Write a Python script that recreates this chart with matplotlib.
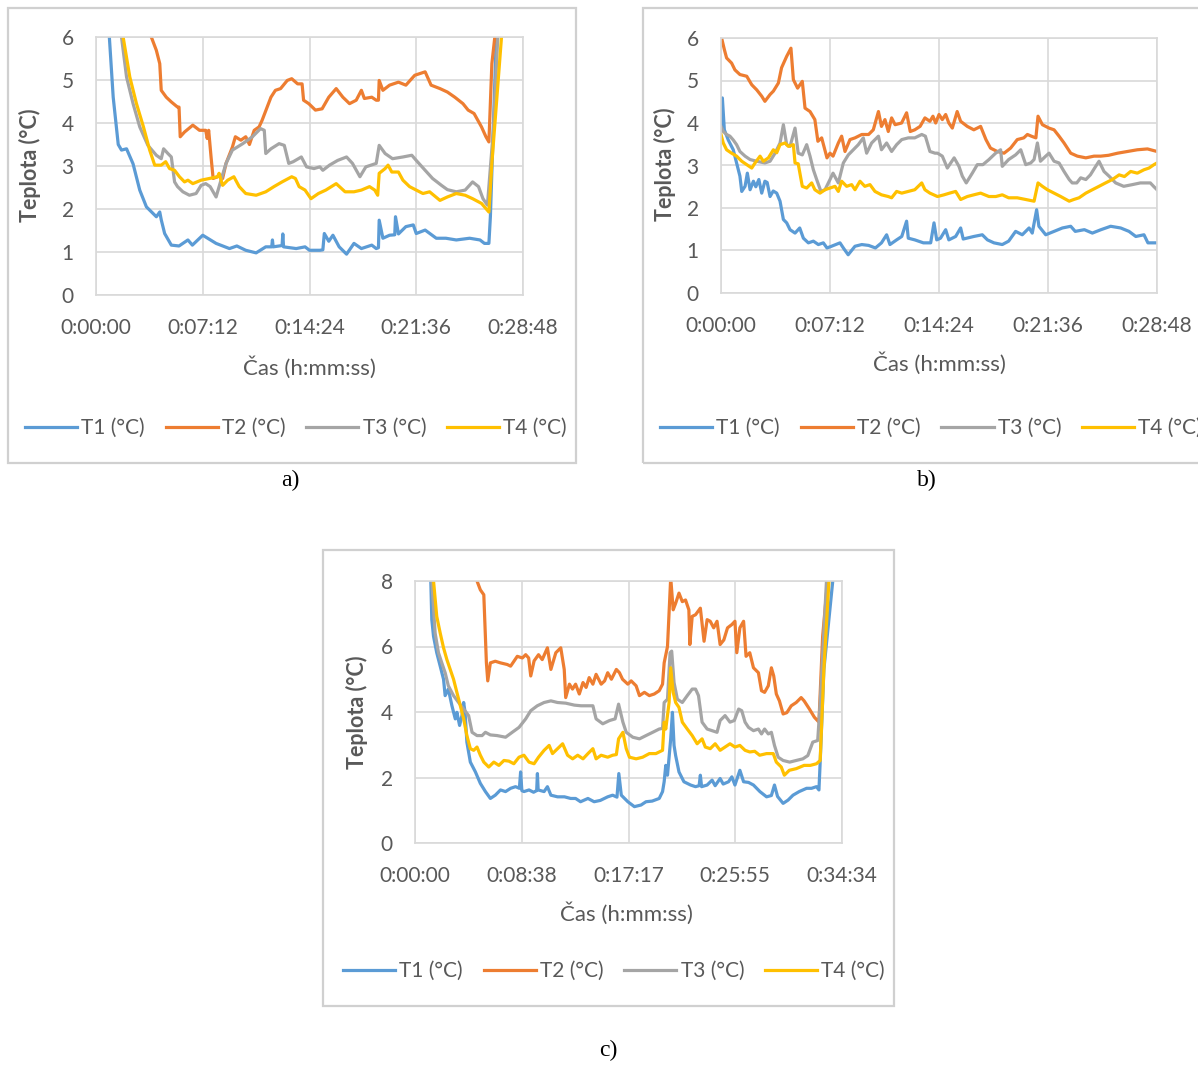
import matplotlib
matplotlib.use("Agg")
import matplotlib.pyplot as plt
from matplotlib.patches import Rectangle
from matplotlib.ticker import FuncFormatter

# cas v minutach, teplota v °C
A_T1_t = [0.8, 0.9, 1.16, 1.5, 1.72, 2.06, 2.5, 2.95, 3.4, 4.07, 4.3, 4.4, 4.63, 5.08, 5.6, 6.2, 6.5, 7.2, 8.1, 9.0,
          9.5, 10.1, 10.8, 11.45, 11.85, 11.9, 11.95, 12.55, 12.6, 12.65, 13.5, 14.1, 14.4, 15.1, 15.3, 15.4, 15.7, 15.98, 16.4, 16.9,
          17.4, 17.9, 18.6, 18.9, 19.05, 19.1, 19.35, 19.8, 20.15, 20.2, 20.4, 20.9, 21.4, 21.6, 22.2, 22.95, 23.6, 24.3, 25.2, 25.9,
          26.2, 26.5, 26.6, 27.0, 27.2]
A_T1_v = [6.6, 6.0, 4.6, 3.5, 3.37, 3.4, 3.05, 2.44, 2.05, 1.82, 1.93, 1.75, 1.43, 1.16, 1.14, 1.28, 1.16, 1.39, 1.2, 1.08,
          1.14, 1.04, 0.98, 1.12, 1.12, 1.28, 1.12, 1.15, 1.42, 1.12, 1.08, 1.12, 1.04, 1.04, 1.05, 1.43, 1.25, 1.39, 1.12, 0.95,
          1.2, 1.08, 1.16, 1.08, 1.1, 1.74, 1.32, 1.39, 1.4, 1.82, 1.42, 1.59, 1.63, 1.43, 1.51, 1.32, 1.32, 1.28, 1.32, 1.28,
          1.2, 1.2, 1.82, 6.0, 6.6]
A_T2_t = [3.6, 3.73, 4.07, 4.3, 4.4, 4.74, 5.08, 5.5, 5.6, 5.68, 5.97, 6.53, 6.98, 7.4, 7.5, 7.6, 7.76, 7.9, 8.2, 8.4,
          8.54, 8.77, 9.2, 9.4, 9.77, 10.1, 10.35, 10.67, 11.0, 11.2, 11.8, 12.1, 12.45, 12.9, 13.2, 13.6, 13.9, 14.0, 14.35, 14.8,
          15.25, 15.7, 16.2, 16.65, 17.1, 17.55, 17.9, 18.1, 18.6, 18.9, 19.05, 19.1, 19.35, 19.8, 20.4, 20.9, 21.5, 22.2, 22.6, 23.2,
          23.7, 24.2, 24.75, 25.1, 25.5, 26.0, 26.3, 26.5, 26.7, 26.9, 27.0]
A_T2_v = [6.5, 6.0, 5.69, 5.38, 4.76, 4.6, 4.49, 4.37, 4.37, 3.68, 3.79, 3.95, 3.83, 3.83, 3.64, 3.83, 3.21, 2.71, 2.75, 2.79,
          2.71, 3.06, 3.44, 3.68, 3.6, 3.68, 3.5, 3.83, 3.91, 4.06, 4.6, 4.76, 4.8, 4.99, 5.03, 4.91, 4.91, 4.53, 4.45, 4.3,
          4.33, 4.6, 4.8, 4.6, 4.45, 4.53, 4.76, 4.57, 4.6, 4.53, 4.53, 4.99, 4.76, 4.88, 4.95, 4.88, 5.11, 5.19, 4.88, 4.8,
          4.72, 4.6, 4.45, 4.3, 4.22, 3.91, 3.68, 3.56, 5.38, 6.0, 6.5]
A_T3_t = [1.6, 1.72, 2.06, 2.5, 2.95, 3.5, 4.07, 4.4, 4.56, 4.85, 5.08, 5.3, 5.5, 5.86, 6.3, 6.75, 7.09, 7.4, 7.7, 8.1,
          8.43, 8.77, 9.2, 9.9, 10.55, 11.1, 11.35, 11.45, 11.8, 12.35, 12.7, 13.0, 13.3, 13.85, 14.2, 14.7, 15.1, 15.3, 15.75, 16.3,
          16.9, 17.3, 17.8, 18.2, 18.9, 19.1, 19.5, 20.0, 20.7, 21.3, 21.6, 22.2, 22.7, 23.3, 23.7, 24.3, 24.9, 25.4, 25.8, 26.1,
          26.4, 26.8, 27.1, 27.2]
A_T3_v = [6.5, 6.0, 5.07, 4.45, 3.91, 3.48, 3.25, 3.17, 3.4, 3.29, 3.21, 2.63, 2.52, 2.4, 2.32, 2.36, 2.55, 2.59, 2.52, 2.28,
          2.67, 3.06, 3.37, 3.52, 3.68, 3.87, 3.83, 3.29, 3.4, 3.52, 3.48, 3.06, 3.1, 3.21, 2.98, 2.94, 2.98, 2.9, 3.02, 3.13,
          3.21, 3.06, 2.75, 2.98, 3.06, 3.48, 3.29, 3.17, 3.21, 3.25, 3.13, 2.9, 2.71, 2.55, 2.45, 2.4, 2.44, 2.63, 2.52, 2.24,
          2.09, 3.83, 6.0, 6.5]
A_T4_t = [1.7, 1.83, 2.28, 2.73, 3.2, 3.62, 3.96, 4.4, 4.7, 4.96, 5.3, 5.63, 5.97, 6.2, 6.53, 7.09, 7.65, 8.2, 8.3, 8.54,
          8.88, 9.3, 9.66, 10.1, 10.8, 11.45, 12.0, 12.55, 13.2, 13.45, 13.7, 14.1, 14.5, 15.0, 15.5, 16.2, 16.8, 17.4, 17.9, 18.45,
          18.8, 19.0, 19.1, 19.5, 19.7, 19.95, 20.4, 20.7, 21.15, 21.6, 22.05, 22.5, 23.2, 23.7, 24.3, 24.9, 25.4, 26.0, 26.5, 26.7,
          27.35, 27.5]
A_T4_v = [6.5, 6.0, 5.07, 4.45, 3.91, 3.37, 3.02, 3.02, 3.1, 2.94, 2.9, 2.75, 2.63, 2.67, 2.59, 2.67, 2.71, 2.75, 2.83, 2.55,
          2.67, 2.75, 2.52, 2.36, 2.32, 2.4, 2.52, 2.63, 2.75, 2.71, 2.52, 2.44, 2.24, 2.36, 2.44, 2.59, 2.4, 2.4, 2.44, 2.52,
          2.44, 2.32, 2.83, 2.94, 3.02, 2.86, 2.86, 2.67, 2.52, 2.44, 2.36, 2.4, 2.2, 2.28, 2.36, 2.32, 2.24, 2.13, 1.93, 3.06,
          6.0, 6.5]

B_T1_t = [0, 0.09, 0.22, 0.48, 0.81, 1.03, 1.25, 1.37, 1.59, 1.74, 1.92, 2.14, 2.3, 2.5, 2.69, 2.9, 3.05, 3.24, 3.45, 3.68,
          3.9, 4.12, 4.34, 4.56, 4.89, 5.2, 5.44, 5.77, 6.1, 6.43, 6.76, 7.0, 7.3, 7.86, 8.1, 8.4, 8.85, 9.3, 9.75, 10.2,
          10.6, 10.94, 11.16, 11.6, 11.94, 12.26, 12.37, 12.8, 13.37, 13.85, 14.07, 14.25, 14.5, 14.84, 15.05, 15.5, 15.83, 16.0, 16.7, 17.26,
          17.6, 18.03, 18.58, 19.0, 19.46, 19.9, 20.35, 20.56, 20.85, 21.0, 21.45, 22.0, 22.55, 23.1, 23.4, 24.0, 24.53, 25.1, 25.74, 26.4,
          26.95, 27.4, 27.94, 28.2, 28.8]
B_T1_v = [3.84, 4.59, 3.84, 3.6, 3.37, 3.06, 2.75, 2.39, 2.51, 2.82, 2.43, 2.63, 2.5, 2.67, 2.35, 2.63, 2.6, 2.27, 2.4, 2.35,
          2.16, 1.73, 1.65, 1.49, 1.41, 1.53, 1.29, 1.18, 1.22, 1.14, 1.18, 1.06, 1.1, 1.18, 1.05, 0.9, 1.1, 1.14, 1.12, 1.06,
          1.18, 1.37, 1.14, 1.25, 1.33, 1.69, 1.29, 1.25, 1.18, 1.18, 1.65, 1.25, 1.29, 1.49, 1.25, 1.33, 1.53, 1.27, 1.33, 1.37,
          1.25, 1.18, 1.14, 1.22, 1.45, 1.37, 1.53, 1.41, 1.96, 1.57, 1.37, 1.45, 1.53, 1.57, 1.45, 1.49, 1.41, 1.49, 1.57, 1.53,
          1.45, 1.33, 1.37, 1.18, 1.18]
B_T2_t = [0.04, 0.22, 0.37, 0.7, 0.92, 1.25, 1.7, 2.03, 2.36, 2.69, 2.9, 3.24, 3.46, 3.79, 4.0, 4.34, 4.62, 4.78, 5.06, 5.37,
          5.55, 5.88, 6.2, 6.4, 6.65, 7.0, 7.2, 7.4, 7.75, 7.97, 8.19, 8.52, 8.85, 9.3, 9.75, 10.06, 10.4, 10.6, 10.83, 11.05,
          11.27, 11.5, 11.93, 12.26, 12.5, 12.8, 13.15, 13.47, 13.8, 14.0, 14.18, 14.4, 14.62, 14.84, 15.05, 15.28, 15.6, 15.83, 16.27, 16.7,
          17.15, 17.5, 17.8, 18.25, 18.7, 19.13, 19.57, 20.0, 20.24, 20.5, 20.8, 20.94, 21.23, 21.67, 22.0, 22.33, 22.66, 23.1, 23.54, 24.1,
          24.64, 25.08, 25.6, 26.2, 26.85, 27.5, 28.17, 28.8]
B_T2_v = [6.0, 5.73, 5.53, 5.41, 5.25, 5.14, 5.1, 4.9, 4.78, 4.63, 4.51, 4.67, 4.75, 4.94, 5.3, 5.57, 5.76, 5.02, 4.82, 4.98,
          4.35, 4.27, 4.08, 3.57, 3.65, 3.18, 3.29, 3.22, 3.53, 3.69, 3.33, 3.61, 3.65, 3.73, 3.73, 3.84, 4.27, 3.92, 4.08, 3.8,
          4.12, 3.96, 4.0, 4.24, 3.8, 3.84, 3.92, 4.12, 4.04, 4.16, 4.0, 4.2, 4.08, 4.2, 4.0, 3.88, 4.27, 4.04, 3.92, 3.84,
          3.92, 3.61, 3.41, 3.33, 3.29, 3.41, 3.61, 3.65, 3.73, 3.69, 3.65, 4.16, 3.96, 3.88, 3.84, 3.69, 3.53, 3.29, 3.22, 3.18,
          3.22, 3.22, 3.24, 3.29, 3.33, 3.37, 3.39, 3.33]
B_T3_t = [0, 0.15, 0.37, 0.59, 0.81, 1.03, 1.25, 1.59, 1.92, 2.36, 2.9, 3.24, 3.57, 3.9, 4.12, 4.34, 4.56, 4.89, 5.1, 5.37,
          5.66, 5.88, 6.1, 6.32, 6.6, 6.87, 7.2, 7.4, 7.75, 8.08, 8.41, 8.74, 9.07, 9.4, 9.62, 9.95, 10.4, 10.6, 10.94, 11.27,
          11.6, 11.94, 12.37, 12.8, 13.26, 13.5, 13.8, 14.14, 14.3, 14.62, 14.95, 15.4, 15.72, 15.94, 16.2, 16.6, 16.93, 17.3, 17.7, 18.14,
          18.47, 18.58, 19.0, 19.46, 19.8, 20.13, 20.46, 20.68, 20.9, 21.1, 21.45, 21.67, 22.0, 22.33, 22.66, 23.0, 23.2, 23.5, 23.76, 24.1,
          24.4, 24.75, 24.97, 25.3, 25.63, 26.07, 26.6, 27.17, 27.7, 28.36, 28.6, 28.8]
B_T3_v = [3.92, 3.8, 3.73, 3.69, 3.6, 3.49, 3.33, 3.22, 3.14, 3.1, 3.06, 3.1, 3.29, 3.53, 3.96, 3.49, 3.45, 3.88, 3.29, 3.25,
          3.49, 3.22, 2.9, 2.67, 2.39, 2.43, 2.67, 2.82, 2.59, 3.06, 3.25, 3.37, 3.49, 3.65, 3.29, 3.53, 3.69, 3.37, 3.53, 3.33,
          3.49, 3.61, 3.65, 3.65, 3.73, 3.69, 3.33, 3.29, 3.29, 3.22, 2.94, 3.18, 2.98, 2.75, 2.59, 2.82, 3.02, 3.02, 3.14, 3.29,
          3.37, 2.98, 3.14, 3.25, 3.37, 3.02, 3.06, 3.14, 3.53, 3.1, 3.22, 3.29, 3.1, 3.06, 2.86, 2.67, 2.59, 2.59, 2.71, 2.67,
          2.78, 2.98, 3.1, 2.86, 2.75, 2.59, 2.51, 2.55, 2.59, 2.59, 2.5, 2.43]
B_T4_t = [0, 0.15, 0.37, 0.7, 1.03, 1.37, 1.7, 2.03, 2.25, 2.58, 2.8, 3.13, 3.46, 3.68, 3.9, 4.23, 4.45, 4.78, 4.89, 5.1,
          5.37, 5.66, 5.99, 6.2, 6.54, 6.87, 7.2, 7.53, 7.75, 7.97, 8.3, 8.63, 8.85, 9.18, 9.5, 9.84, 10.17, 10.6, 11.05, 11.27,
          11.6, 11.94, 12.37, 12.8, 13.26, 13.47, 13.8, 14.3, 14.73, 15.1, 15.5, 15.83, 16.27, 16.7, 17.15, 17.7, 18.15, 18.58, 19.0, 19.57,
          20.13, 20.68, 20.94, 21.23, 21.56, 22.0, 22.44, 23.0, 23.3, 23.65, 24.1, 24.53, 24.97, 25.4, 25.85, 26.3, 26.65, 27.06, 27.5, 27.94,
          28.27, 28.6, 28.8]
B_T4_v = [3.73, 3.53, 3.37, 3.29, 3.22, 3.1, 3.02, 2.94, 3.06, 3.22, 3.1, 3.18, 3.37, 3.3, 3.49, 3.53, 3.45, 3.49, 3.06, 3.04,
          2.51, 2.47, 2.59, 2.43, 2.35, 2.43, 2.47, 2.51, 2.39, 2.63, 2.51, 2.55, 2.43, 2.63, 2.51, 2.55, 2.39, 2.31, 2.27, 2.24,
          2.39, 2.35, 2.39, 2.43, 2.59, 2.43, 2.35, 2.27, 2.31, 2.35, 2.39, 2.2, 2.27, 2.31, 2.35, 2.27, 2.27, 2.31, 2.24, 2.24,
          2.2, 2.16, 2.59, 2.51, 2.43, 2.35, 2.27, 2.16, 2.2, 2.24, 2.35, 2.43, 2.51, 2.59, 2.67, 2.78, 2.74, 2.86, 2.82, 2.9,
          2.94, 3.02, 3.06]

C_T1_t = [1.2, 1.28, 1.36, 1.5, 1.76, 2.04, 2.31, 2.44, 2.7, 2.99, 3.26, 3.39, 3.61, 3.8, 3.94, 4.05, 4.2, 4.48, 4.89, 5.29,
          5.7, 6.1, 6.5, 6.92, 7.33, 7.74, 8.14, 8.45, 8.55, 8.65, 8.82, 9.23, 9.6, 9.85, 9.91, 9.97, 10.45, 10.72, 11.0, 11.54,
          12.1, 12.6, 13.0, 13.4, 14.0, 14.5, 15.0, 15.6, 16.0, 16.35, 16.5, 16.7, 17.23, 17.76, 18.3, 18.7, 19.2, 19.77, 20.04, 20.17,
          20.3, 20.44, 20.7, 20.84, 20.97, 21.1, 21.37, 21.77, 22.31, 22.71, 23.0, 23.1, 23.2, 23.65, 24.05, 24.3, 24.7, 24.95, 25.38, 25.65,
          25.9, 26.3, 26.6, 27.0, 27.4, 27.92, 28.46, 28.85, 29.1, 29.35, 29.8, 30.2, 30.6, 31.1, 31.7, 32.1, 32.5, 32.7, 32.8, 33.1,
          33.8, 33.9]
C_T1_v = [8.5, 8.0, 6.82, 6.31, 5.81, 5.4, 5.0, 4.5, 4.7, 4.19, 3.79, 3.99, 3.59, 3.89, 4.29, 4.0, 3.08, 2.47, 2.17, 1.82,
          1.57, 1.36, 1.46, 1.62, 1.57, 1.67, 1.72, 1.67, 2.17, 1.6, 1.57, 1.62, 1.55, 1.6, 2.12, 1.62, 1.57, 1.72, 1.46, 1.41,
          1.41, 1.36, 1.36, 1.26, 1.36, 1.26, 1.3, 1.41, 1.46, 1.4, 2.12, 1.46, 1.26, 1.11, 1.16, 1.26, 1.28, 1.36, 1.57, 1.87,
          2.37, 2.07, 3.18, 3.99, 2.98, 2.67, 2.17, 1.87, 1.77, 1.72, 1.75, 2.07, 1.72, 1.77, 1.92, 1.75, 1.97, 1.8, 1.87, 2.02,
          1.77, 2.22, 1.87, 1.85, 1.77, 1.57, 1.41, 1.45, 1.77, 1.42, 1.21, 1.31, 1.46, 1.57, 1.67, 1.67, 1.72, 1.62, 2.47, 5.3,
          7.93, 8.3]
C_T2_t = [4.9, 5.02, 5.29, 5.57, 5.78, 5.89, 6.1, 6.5, 6.92, 7.47, 7.74, 8.28, 8.69, 8.96, 9.2, 9.37, 9.64, 10.0, 10.3, 10.72,
          11.0, 11.4, 11.8, 12.08, 12.2, 12.5, 12.75, 13.0, 13.3, 13.6, 13.85, 14.1, 14.4, 14.66, 15.07, 15.35, 15.6, 15.9, 16.3, 16.55,
          16.8, 17.23, 17.5, 17.9, 18.17, 18.57, 18.97, 19.37, 19.77, 20.04, 20.17, 20.44, 20.7, 20.9, 21.1, 21.37, 21.64, 21.9, 22.17, 22.25,
          22.44, 22.71, 23.1, 23.4, 23.65, 23.9, 24.18, 24.45, 24.7, 25.0, 25.3, 25.65, 25.9, 26.05, 26.3, 26.6, 26.8, 27.1, 27.4, 27.8,
          28.05, 28.3, 28.6, 28.85, 29.04, 29.25, 29.5, 29.8, 30.1, 30.46, 30.86, 31.26, 31.5, 31.93, 32.33, 32.7, 33.0, 33.4, 33.5]
C_T2_v = [8.3, 8.0, 7.73, 7.58, 5.5, 4.95, 5.5, 5.55, 5.5, 5.45, 5.4, 5.7, 5.65, 5.75, 5.65, 5.1, 5.56, 5.75, 5.6, 5.96,
          5.3, 5.81, 5.96, 5.3, 4.44, 4.85, 4.7, 4.85, 4.55, 4.9, 4.75, 5.05, 4.85, 5.15, 4.85, 4.95, 5.2, 5.0, 5.3, 5.2,
          5.0, 4.85, 4.95, 4.8, 4.5, 4.6, 4.5, 4.55, 4.65, 4.85, 5.5, 6.0, 8.1, 7.12, 7.32, 7.63, 7.37, 7.42, 7.12, 6.06,
          6.92, 6.97, 7.17, 6.16, 6.82, 6.77, 6.57, 6.77, 6.06, 6.2, 6.57, 6.67, 6.77, 5.81, 6.57, 6.77, 5.7, 5.81, 5.35, 5.2,
          4.65, 4.6, 4.8, 5.35, 5.1, 4.55, 4.34, 3.94, 3.98, 4.19, 4.29, 4.44, 4.34, 4.09, 3.84, 3.69, 6.31, 8.0, 8.3]
C_T3_t = [1.25, 1.36, 1.63, 1.9, 2.17, 2.44, 2.7, 3.12, 3.53, 3.94, 4.34, 4.62, 5.02, 5.43, 5.7, 6.1, 6.65, 7.33, 7.87, 8.42,
          8.96, 9.37, 9.9, 10.45, 11.0, 11.54, 12.2, 12.9, 13.44, 14.1, 14.4, 14.66, 15.2, 15.75, 16.2, 16.48, 16.83, 17.1, 17.63, 18.17,
          18.7, 19.24, 19.77, 20.04, 20.17, 20.44, 20.65, 20.78, 20.97, 21.24, 21.64, 22.04, 22.44, 22.71, 22.95, 23.24, 23.65, 24.05, 24.45, 24.7,
          25.1, 25.5, 25.85, 26.2, 26.45, 26.72, 27.0, 27.4, 27.8, 28.05, 28.3, 28.6, 28.85, 29.1, 29.4, 29.8, 30.33, 30.86, 31.4, 31.8,
          32.2, 32.6, 32.8, 33.3, 33.4]
C_T3_v = [8.4, 8.0, 6.41, 5.81, 5.5, 5.2, 4.8, 4.5, 4.29, 4.09, 3.89, 3.38, 3.28, 3.28, 3.38, 3.3, 3.28, 3.23, 3.38, 3.53,
          3.79, 4.04, 4.19, 4.29, 4.34, 4.29, 4.27, 4.21, 4.19, 4.19, 4.19, 3.79, 3.64, 3.74, 3.79, 4.24, 3.69, 3.38, 3.23, 3.18,
          3.28, 3.38, 3.48, 3.5, 4.29, 4.39, 5.81, 5.86, 4.9, 4.39, 4.29, 4.5, 4.7, 4.7, 4.5, 3.69, 3.48, 3.43, 3.38, 3.74,
          3.89, 3.69, 3.74, 4.09, 4.04, 3.69, 3.53, 3.43, 3.48, 3.33, 3.48, 3.33, 3.38, 2.98, 2.62, 2.52, 2.47, 2.52, 2.57, 2.67,
          3.08, 3.13, 4.29, 7.93, 8.4]
C_T4_t = [1.4, 1.5, 1.76, 2.04, 2.31, 2.58, 2.85, 3.12, 3.39, 3.67, 3.94, 4.2, 4.48, 4.75, 5.02, 5.29, 5.57, 5.97, 6.38, 6.79,
          7.2, 7.6, 8.0, 8.42, 8.82, 9.23, 9.64, 10.0, 10.45, 10.86, 11.13, 11.54, 11.95, 12.35, 12.76, 13.17, 13.6, 14.0, 14.4, 14.66,
          15.07, 15.6, 16.0, 16.3, 16.48, 16.83, 17.1, 17.36, 17.9, 18.43, 18.97, 19.5, 20.04, 20.17, 20.3, 20.57, 20.7, 20.9, 21.1, 21.37,
          21.64, 22.04, 22.44, 22.84, 23.24, 23.5, 23.9, 24.3, 24.7, 25.1, 25.5, 25.9, 26.3, 26.72, 27.1, 27.5, 27.9, 28.46, 29.0, 29.25,
          29.65, 29.9, 30.3, 30.86, 31.5, 32.0, 32.5, 32.8, 33.1, 33.5, 33.6]
C_T4_v = [8.4, 8.0, 6.92, 6.41, 5.96, 5.6, 5.3, 5.0, 4.6, 4.19, 3.79, 3.28, 2.88, 2.83, 2.93, 2.68, 2.47, 2.32, 2.47, 2.37,
          2.52, 2.5, 2.42, 2.62, 2.68, 2.47, 2.42, 2.62, 2.83, 2.98, 2.73, 2.88, 3.03, 2.68, 2.57, 2.68, 2.57, 2.73, 2.88, 2.57,
          2.68, 2.62, 2.68, 2.7, 3.18, 3.38, 2.88, 2.62, 2.57, 2.62, 2.73, 2.73, 2.83, 3.69, 3.48, 4.29, 5.35, 4.6, 4.29, 4.14,
          3.69, 3.48, 3.28, 3.03, 3.18, 2.93, 2.88, 3.03, 2.83, 2.93, 3.03, 2.93, 2.98, 2.83, 2.78, 2.8, 2.68, 2.73, 2.73, 2.47,
          2.32, 2.07, 2.22, 2.27, 2.37, 2.37, 2.42, 2.52, 5.3, 7.93, 8.4]

nazvy = ["T1 (°C)", "T2 (°C)", "T3 (°C)", "T4 (°C)"]
barvy = ["#5b9bd5", "#ed7d31", "#a5a5a5", "#ffc000"]
sedy = "#595959"
mrizka = "#d9d9d9"

W, H = 1198, 1065
fig = plt.figure(figsize=(W / 100, H / 100), dpi=100)
plt.rcParams['font.family'] = ['Lato', 'DejaVu Sans']


def px(x0, y0, x1, y1):
    # pixely (odshora) -> souradnice obrazku
    return [x0 / W, 1 - y1 / H, (x1 - x0) / W, (y1 - y0) / H]


def cas(m, pos=None):
    s = int(round(m * 60, 3))
    return "%d:%02d:%02d" % (s // 3600, (s // 60) % 60, s % 60)


def graf(ram, osa, data, tmax, ymax, ystep, legpos, xl, yl, pismeno, ppos):
    r = px(*ram)
    fig.patches.append(Rectangle((r[0], r[1]), r[2], r[3], transform=fig.transFigure,
                                 fill=False, ec="#d0d0d0", lw=1.6, zorder=0))
    ax = fig.add_axes(px(*osa))
    for (t, v), c, n in zip(data, barvy, nazvy):
        ax.plot(t, v, color=c, lw=2.3, label=n, solid_joinstyle="round")
    ax.set_xlim(0, tmax)
    ax.set_ylim(0, ymax)
    ax.set_xticks([tmax * i / 4 for i in range(5)])
    ax.xaxis.set_major_formatter(FuncFormatter(cas))
    ax.set_yticks(range(0, ymax + 1, ystep))
    ax.grid(True, color=mrizka, lw=1.2)
    ax.set_axisbelow(True)
    for s in ax.spines.values():
        s.set_color(mrizka)
        s.set_linewidth(1.2)
    ax.tick_params(length=0, labelsize=15, labelcolor=sedy)
    ax.tick_params(axis="y", pad=16)
    ax.tick_params(axis="x", pad=16.5)
    ax.set_xlabel("Čas (h:mm:ss)", fontsize=16, color=sedy, va="center")
    ax.xaxis.set_label_coords(*xl)
    ax.set_ylabel("Teplota (°C)", fontsize=15.5, color=sedy, fontweight="bold", va="center")
    ax.yaxis.set_label_coords(*yl)
    ax.legend(loc="center", bbox_to_anchor=(legpos[0] / W, 1 - legpos[1] / H), bbox_transform=fig.transFigure,
              ncol=4, frameon=False, fontsize=15, labelcolor=sedy, handlelength=2.5, handletextpad=0.2,
              columnspacing=1.0)
    fig.text(ppos[0] / W, 1 - ppos[1] / H, pismeno, family="Liberation Serif", fontsize=17,
             ha="center", va="center", color="black")


graf((8, 8, 576, 463), (96, 37, 523, 295),
     [(A_T1_t, A_T1_v), (A_T2_t, A_T2_v), (A_T3_t, A_T3_v), (A_T4_t, A_T4_v)],
     28.8, 6, 1, (296, 428), (0.5, -0.28), (-0.155, 0.504), "a)", (290, 480))
graf((643, 8, 1210, 463), (721, 38, 1157, 293),
     [(B_T1_t, B_T1_v), (B_T2_t, B_T2_v), (B_T3_t, B_T3_v), (B_T4_t, B_T4_v)],
     28.8, 6, 1, (931, 428), (0.5, -0.275), (-0.128, 0.506), "b)", (927, 480))
graf((323, 550, 894, 1006), (415, 581, 842, 843),
     [(C_T1_t, C_T1_v), (C_T2_t, C_T2_v), (C_T3_t, C_T3_v), (C_T4_t, C_T4_v)],
     2074 / 60, 8, 2, (614, 971), (0.496, -0.27), (-0.136, 0.5), "c)", (608, 1050))

fig.savefig("out.png", dpi=100, facecolor="white")
